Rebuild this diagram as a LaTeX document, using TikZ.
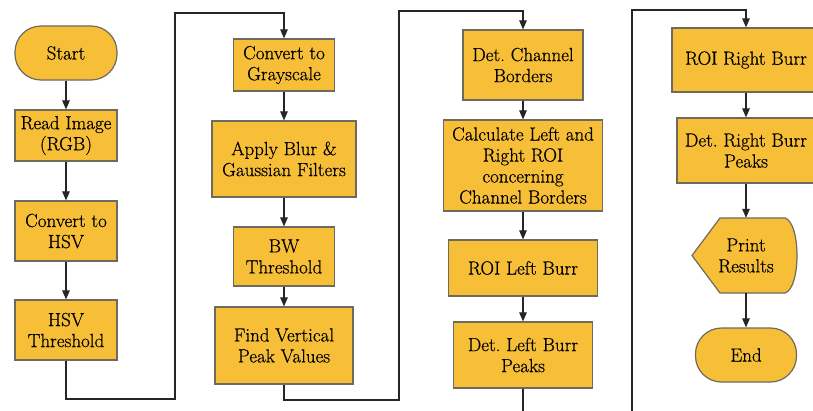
\documentclass[tikz,border=0pt]{standalone}
\usepackage{fontspec}
\newfontfamily\boxfont{Latin Modern Roman}[FakeBold=0.5]
\usetikzlibrary{arrows.meta}
\definecolor{boxc}{HTML}{F7BF38}
\definecolor{bordc}{HTML}{6E6A5E}
\definecolor{linec}{HTML}{262626}
\frenchspacing
\begin{document}
\begin{tikzpicture}[x=1pt,y=-1pt,
  box/.style={draw=bordc, fill=boxc, line width=1.2pt, align=center, inner sep=0pt,
    font=\boxfont\frenchspacing\fontsize{19}{21}\selectfont},
  term/.style={box, rounded corners=26pt},
  txt/.style={align=center, inner sep=0pt, font=\boxfont\frenchspacing\fontsize{19}{21}\selectfont},
  flow/.style={draw=linec, line width=1.1pt, -{Triangle[length=9pt,width=7.5pt]}},
  plain/.style={draw=linec, line width=1.1pt}]
\useasboundingbox (0,0) rectangle (813,410);
\fill[white] (0,0) rectangle (813,410);
% column 1
\node[term, minimum width=102pt, minimum height=54pt] (start) at (66,53) {Start};
\node[box, minimum width=102pt, minimum height=51pt] (read) at (66,135.5) {Read Image\\(RGB)};
\node[box, minimum width=102pt, minimum height=60pt] (hsv) at (66,231) {Convert to\\HSV};
\node[box, minimum width=102pt, minimum height=60pt] (hsvth) at (66,330) {HSV\\Threshold};
% column 2
\node[box, minimum width=101pt, minimum height=52pt] (gray) at (284,65) {Convert to\\Grayscale};
\node[box, minimum width=144pt, minimum height=76pt] (blur) at (284,159) {Apply Blur \&\\Gaussian Filters};
\node[box, minimum width=101pt, minimum height=59pt] (bw) at (284,256.5) {BW\\Threshold};
\node[box, minimum width=138pt, minimum height=77pt] (peak) at (284,345.5) {Find Vertical\\Peak Values};
% column 3
\node[box, minimum width=120pt, minimum height=70pt] (chan) at (523,65) {Det.\ Channel\\Borders};
\node[box, minimum width=159pt, minimum height=91pt] (calc) at (523,165.5) {Calculate Left and\\Right ROI\\concerning\\Channel Borders};
\node[box, minimum width=149pt, minimum height=56pt] (roil) at (523,268) {ROI Left Burr};
\node[box, minimum width=139pt, minimum height=66pt] (detl) at (523,355) {Det.\ Left Burr\\Peaks};
% column 4
\node[box, minimum width=148pt, minimum height=64pt] (roir) at (746,60) {ROI Right Burr};
\node[box, minimum width=138pt, minimum height=65pt] (detr) at (746,150.5) {Det.\ Right Burr\\Peaks};
\path[draw=bordc, fill=boxc, line width=1.2pt] (692,255.5) -- (720,218) -- (785,218)
  .. controls (801,223) and (801,288) .. (785,293) -- (720,293) -- cycle;
\node[txt, minimum width=105pt, minimum height=75pt] (print) at (746,255.5) {Print\\Results};
\node[term, minimum width=101pt, minimum height=54pt] (end) at (746,355) {End};
% vertical arrows
\draw[flow] (start) -- (read);
\draw[flow] (read) -- (hsv);
\draw[flow] (hsv) -- (hsvth);
\draw[flow] (gray) -- (blur);
\draw[flow] (blur) -- (bw);
\draw[flow] (bw) -- (peak);
\draw[flow] (chan) -- (calc);
\draw[flow] (calc) -- (roil);
\draw[flow] (roil) -- (detl);
\draw[flow] (roir) -- (detr);
\draw[flow] (detr) -- (print);
\draw[flow] (print) -- (end);
% column links
\draw[flow] (hsvth.south) -- (66,399) -- (175,399) -- (175,13) -- (284,13) -- (gray.north);
\draw[flow] (peak.south) -- (284,400) -- (399,400) -- (399,11) -- (523,11) -- (chan.north);
\coordinate (cut1) at (523,412);
\coordinate (cut2) at (632,412);
\draw[plain] (detl.south) -- (cut1);
\draw[flow] (cut2) -- (632,10) -- (746,10) -- (roir.north);
\end{tikzpicture}
\end{document}
